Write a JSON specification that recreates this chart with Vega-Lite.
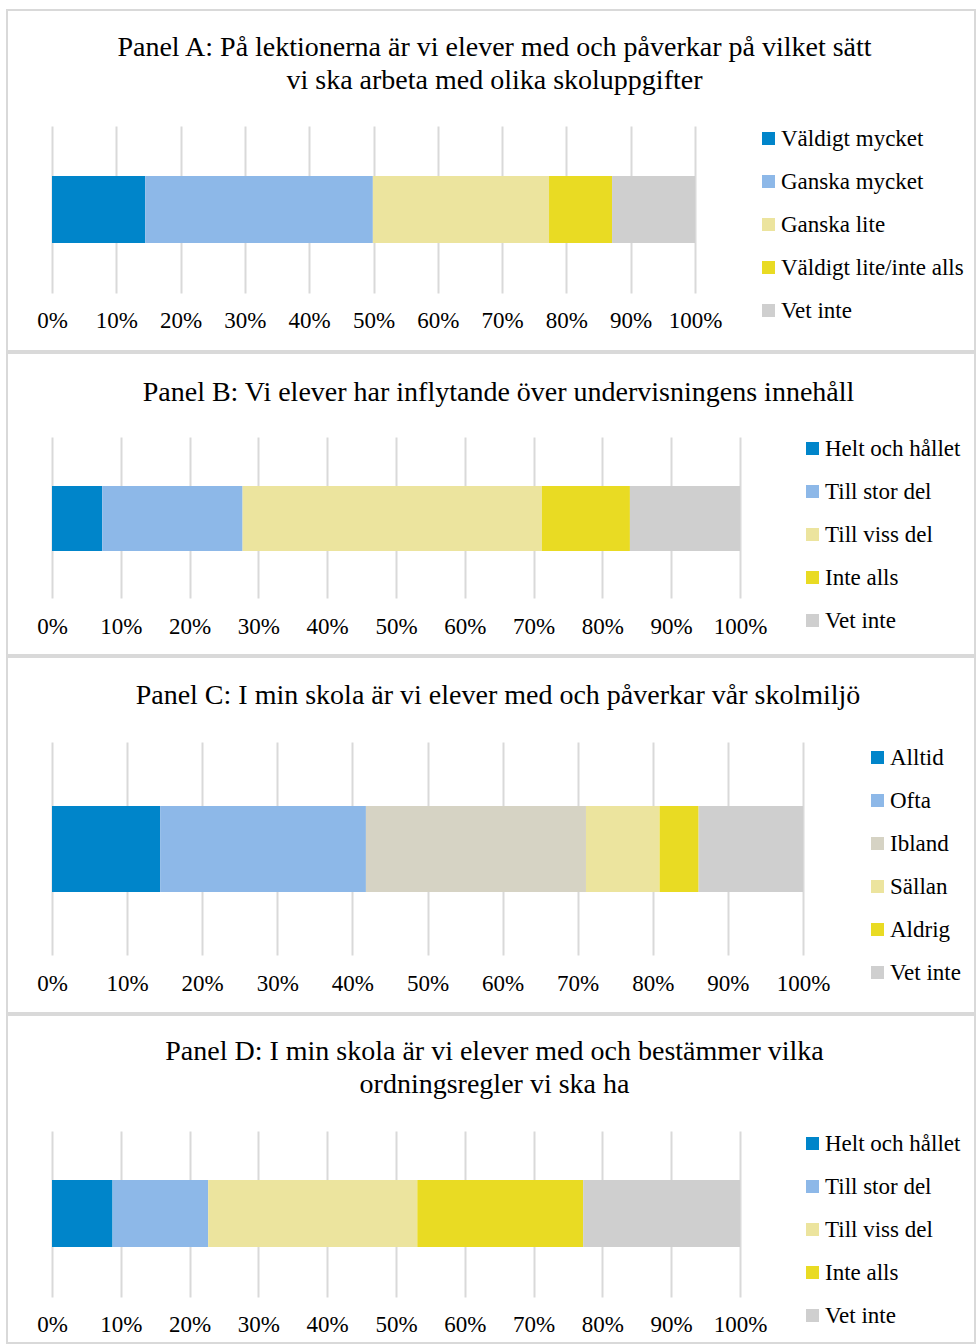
{
  "$schema": "https://vega.github.io/schema/vega-lite/v6.json",
  "padding": {"left": 6, "top": 9, "right": 0, "bottom": 0},
  "background": "white",
  "spacing": 0,
  "config": {
    "view": {"stroke": "#D9D9D9", "strokeWidth": 2},
    "font": "Liberation Serif",
    "title": {"font": "Liberation Serif", "fontSize": 28, "fontWeight": "normal", "color": "#000000", "anchor": "middle", "lineHeight": 33},
    "axis": {"labelFont": "Liberation Serif", "labelFontSize": 23, "labelColor": "#000000", "grid": false, "domain": false, "tickColor": "#D9D9D9", "tickWidth": 2, "labelBaseline": "middle", "labelFlush": false, "title": null},
    "legend": {"labelFont": "Liberation Serif", "labelFontSize": 23, "labelColor": "#000000", "symbolType": "square", "symbolSize": 169, "symbolStrokeWidth": 0, "labelOffset": 1, "padding": 0, "labelLimit": 0, "rowPadding": 19, "orient": "none"}
  },
  "data": {"values": [
    {"panel": "A", "cat": "Väldigt mycket", "ord": 1, "value": 14.5},
    {"panel": "A", "cat": "Ganska mycket", "ord": 2, "value": 35.4},
    {"panel": "A", "cat": "Ganska lite", "ord": 3, "value": 27.4},
    {"panel": "A", "cat": "Väldigt lite/inte alls", "ord": 4, "value": 9.8},
    {"panel": "A", "cat": "Vet inte", "ord": 5, "value": 12.9},
    {"panel": "B", "cat": "Helt och hållet", "ord": 1, "value": 7.3},
    {"panel": "B", "cat": "Till stor del", "ord": 2, "value": 20.4},
    {"panel": "B", "cat": "Till viss del", "ord": 3, "value": 43.5},
    {"panel": "B", "cat": "Inte alls", "ord": 4, "value": 12.8},
    {"panel": "B", "cat": "Vet inte", "ord": 5, "value": 16.0},
    {"panel": "C", "cat": "Alltid", "ord": 1, "value": 14.4},
    {"panel": "C", "cat": "Ofta", "ord": 2, "value": 27.4},
    {"panel": "C", "cat": "Ibland", "ord": 3, "value": 29.3},
    {"panel": "C", "cat": "Sällan", "ord": 4, "value": 9.8},
    {"panel": "C", "cat": "Aldrig", "ord": 5, "value": 5.2},
    {"panel": "C", "cat": "Vet inte", "ord": 6, "value": 13.9},
    {"panel": "D", "cat": "Helt och hållet", "ord": 1, "value": 8.8},
    {"panel": "D", "cat": "Till stor del", "ord": 2, "value": 13.9},
    {"panel": "D", "cat": "Till viss del", "ord": 3, "value": 30.4},
    {"panel": "D", "cat": "Inte alls", "ord": 4, "value": 24.1},
    {"panel": "D", "cat": "Vet inte", "ord": 5, "value": 22.8}
  ]},
  "resolve": {"scale": {"x": "independent", "y": "independent", "color": "independent"}, "axis": {"x": "independent", "y": "independent"}, "legend": {"color": "independent"}},
  "vconcat": [
    {
      "width": 968, "height": 341,
      "title": {"text": ["Panel A: På lektionerna är vi elever med och påverkar på vilket sätt", "vi ska arbeta med olika skoluppgifter"], "offset": -85, "dx": 3.5},
      "transform": [{"filter": "datum.panel === 'A'"}],
      "mark": {"type": "bar"},
      "encoding": {
        "x": {"field": "value", "type": "quantitative", "stack": "normalize",
          "scale": {"domain": [0, 1], "range": [45, 688], "nice": false, "zero": true},
          "axis": {"values": [0, 0.1, 0.2, 0.3, 0.4, 0.5, 0.6, 0.7, 0.8, 0.9, 1], "format": ".0%", "tickSize": -167, "offset": -58, "labelPadding": 194}},
        "y": {"field": "panel", "type": "nominal", "scale": {"range": [166, 233], "paddingInner": 0, "paddingOuter": 0}, "axis": null},
        "color": {"field": "cat", "type": "nominal",
          "scale": {"domain": ["Väldigt mycket", "Ganska mycket", "Ganska lite", "Väldigt lite/inte alls", "Vet inte"], "range": ["#0085CA", "#8DB8E8", "#ECE49E", "#E9DB23", "#CFCFCF"]},
          "legend": {"title": null, "legendX": 750, "legendY": 117}},
        "order": {"field": "ord", "type": "quantitative"}
      }
    },
    {
      "width": 968, "height": 302,
      "title": {"text": "Panel B: Vi elever har inflytande över undervisningens innehåll", "offset": -54, "dx": 7.5},
      "transform": [{"filter": "datum.panel === 'B'"}],
      "mark": {"type": "bar"},
      "encoding": {
        "x": {"field": "value", "type": "quantitative", "stack": "normalize",
          "scale": {"domain": [0, 1], "range": [45, 733], "nice": false, "zero": true},
          "axis": {"values": [0, 0.1, 0.2, 0.3, 0.4, 0.5, 0.6, 0.7, 0.8, 0.9, 1], "format": ".0%", "tickSize": -161, "offset": -57, "labelPadding": 189}},
        "y": {"field": "panel", "type": "nominal", "scale": {"range": [133, 198], "paddingInner": 0, "paddingOuter": 0}, "axis": null},
        "color": {"field": "cat", "type": "nominal",
          "scale": {"domain": ["Helt och hållet", "Till stor del", "Till viss del", "Inte alls", "Vet inte"], "range": ["#0085CA", "#8DB8E8", "#ECE49E", "#E9DB23", "#CFCFCF"]},
          "legend": {"title": null, "legendX": 794, "legendY": 84}},
        "order": {"field": "ord", "type": "quantitative"}
      }
    },
    {
      "width": 968, "height": 356,
      "title": {"text": "Panel C: I min skola är vi elever med och påverkar vår skolmiljö", "offset": -53, "dx": 7},
      "transform": [{"filter": "datum.panel === 'C'"}],
      "mark": {"type": "bar"},
      "encoding": {
        "x": {"field": "value", "type": "quantitative", "stack": "normalize",
          "scale": {"domain": [0, 1], "range": [45, 796], "nice": false, "zero": true},
          "axis": {"values": [0, 0.1, 0.2, 0.3, 0.4, 0.5, 0.6, 0.7, 0.8, 0.9, 1], "format": ".0%", "tickSize": -213, "offset": -58, "labelPadding": 241}},
        "y": {"field": "panel", "type": "nominal", "scale": {"range": [149, 235], "paddingInner": 0, "paddingOuter": 0}, "axis": null},
        "color": {"field": "cat", "type": "nominal",
          "scale": {"domain": ["Alltid", "Ofta", "Ibland", "Sällan", "Aldrig", "Vet inte"], "range": ["#0085CA", "#8DB8E8", "#D6D3C4", "#ECE49E", "#E9DB23", "#CFCFCF"]},
          "legend": {"title": null, "legendX": 859, "legendY": 89}},
        "order": {"field": "ord", "type": "quantitative"}
      }
    },
    {
      "width": 968, "height": 328,
      "title": {"text": ["Panel D: I min skola är vi elever med och bestämmer vilka", "ordningsregler vi ska ha"], "offset": -84, "dx": 3.5},
      "transform": [{"filter": "datum.panel === 'D'"}],
      "mark": {"type": "bar"},
      "encoding": {
        "x": {"field": "value", "type": "quantitative", "stack": "normalize",
          "scale": {"domain": [0, 1], "range": [45, 733], "nice": false, "zero": true},
          "axis": {"values": [0, 0.1, 0.2, 0.3, 0.4, 0.5, 0.6, 0.7, 0.8, 0.9, 1], "format": ".0%", "tickSize": -166, "offset": -46, "labelPadding": 193}},
        "y": {"field": "panel", "type": "nominal", "scale": {"range": [165, 232], "paddingInner": 0, "paddingOuter": 0}, "axis": null},
        "color": {"field": "cat", "type": "nominal",
          "scale": {"domain": ["Helt och hållet", "Till stor del", "Till viss del", "Inte alls", "Vet inte"], "range": ["#0085CA", "#8DB8E8", "#ECE49E", "#E9DB23", "#CFCFCF"]},
          "legend": {"title": null, "legendX": 794, "legendY": 117}},
        "order": {"field": "ord", "type": "quantitative"}
      }
    }
  ]
}
